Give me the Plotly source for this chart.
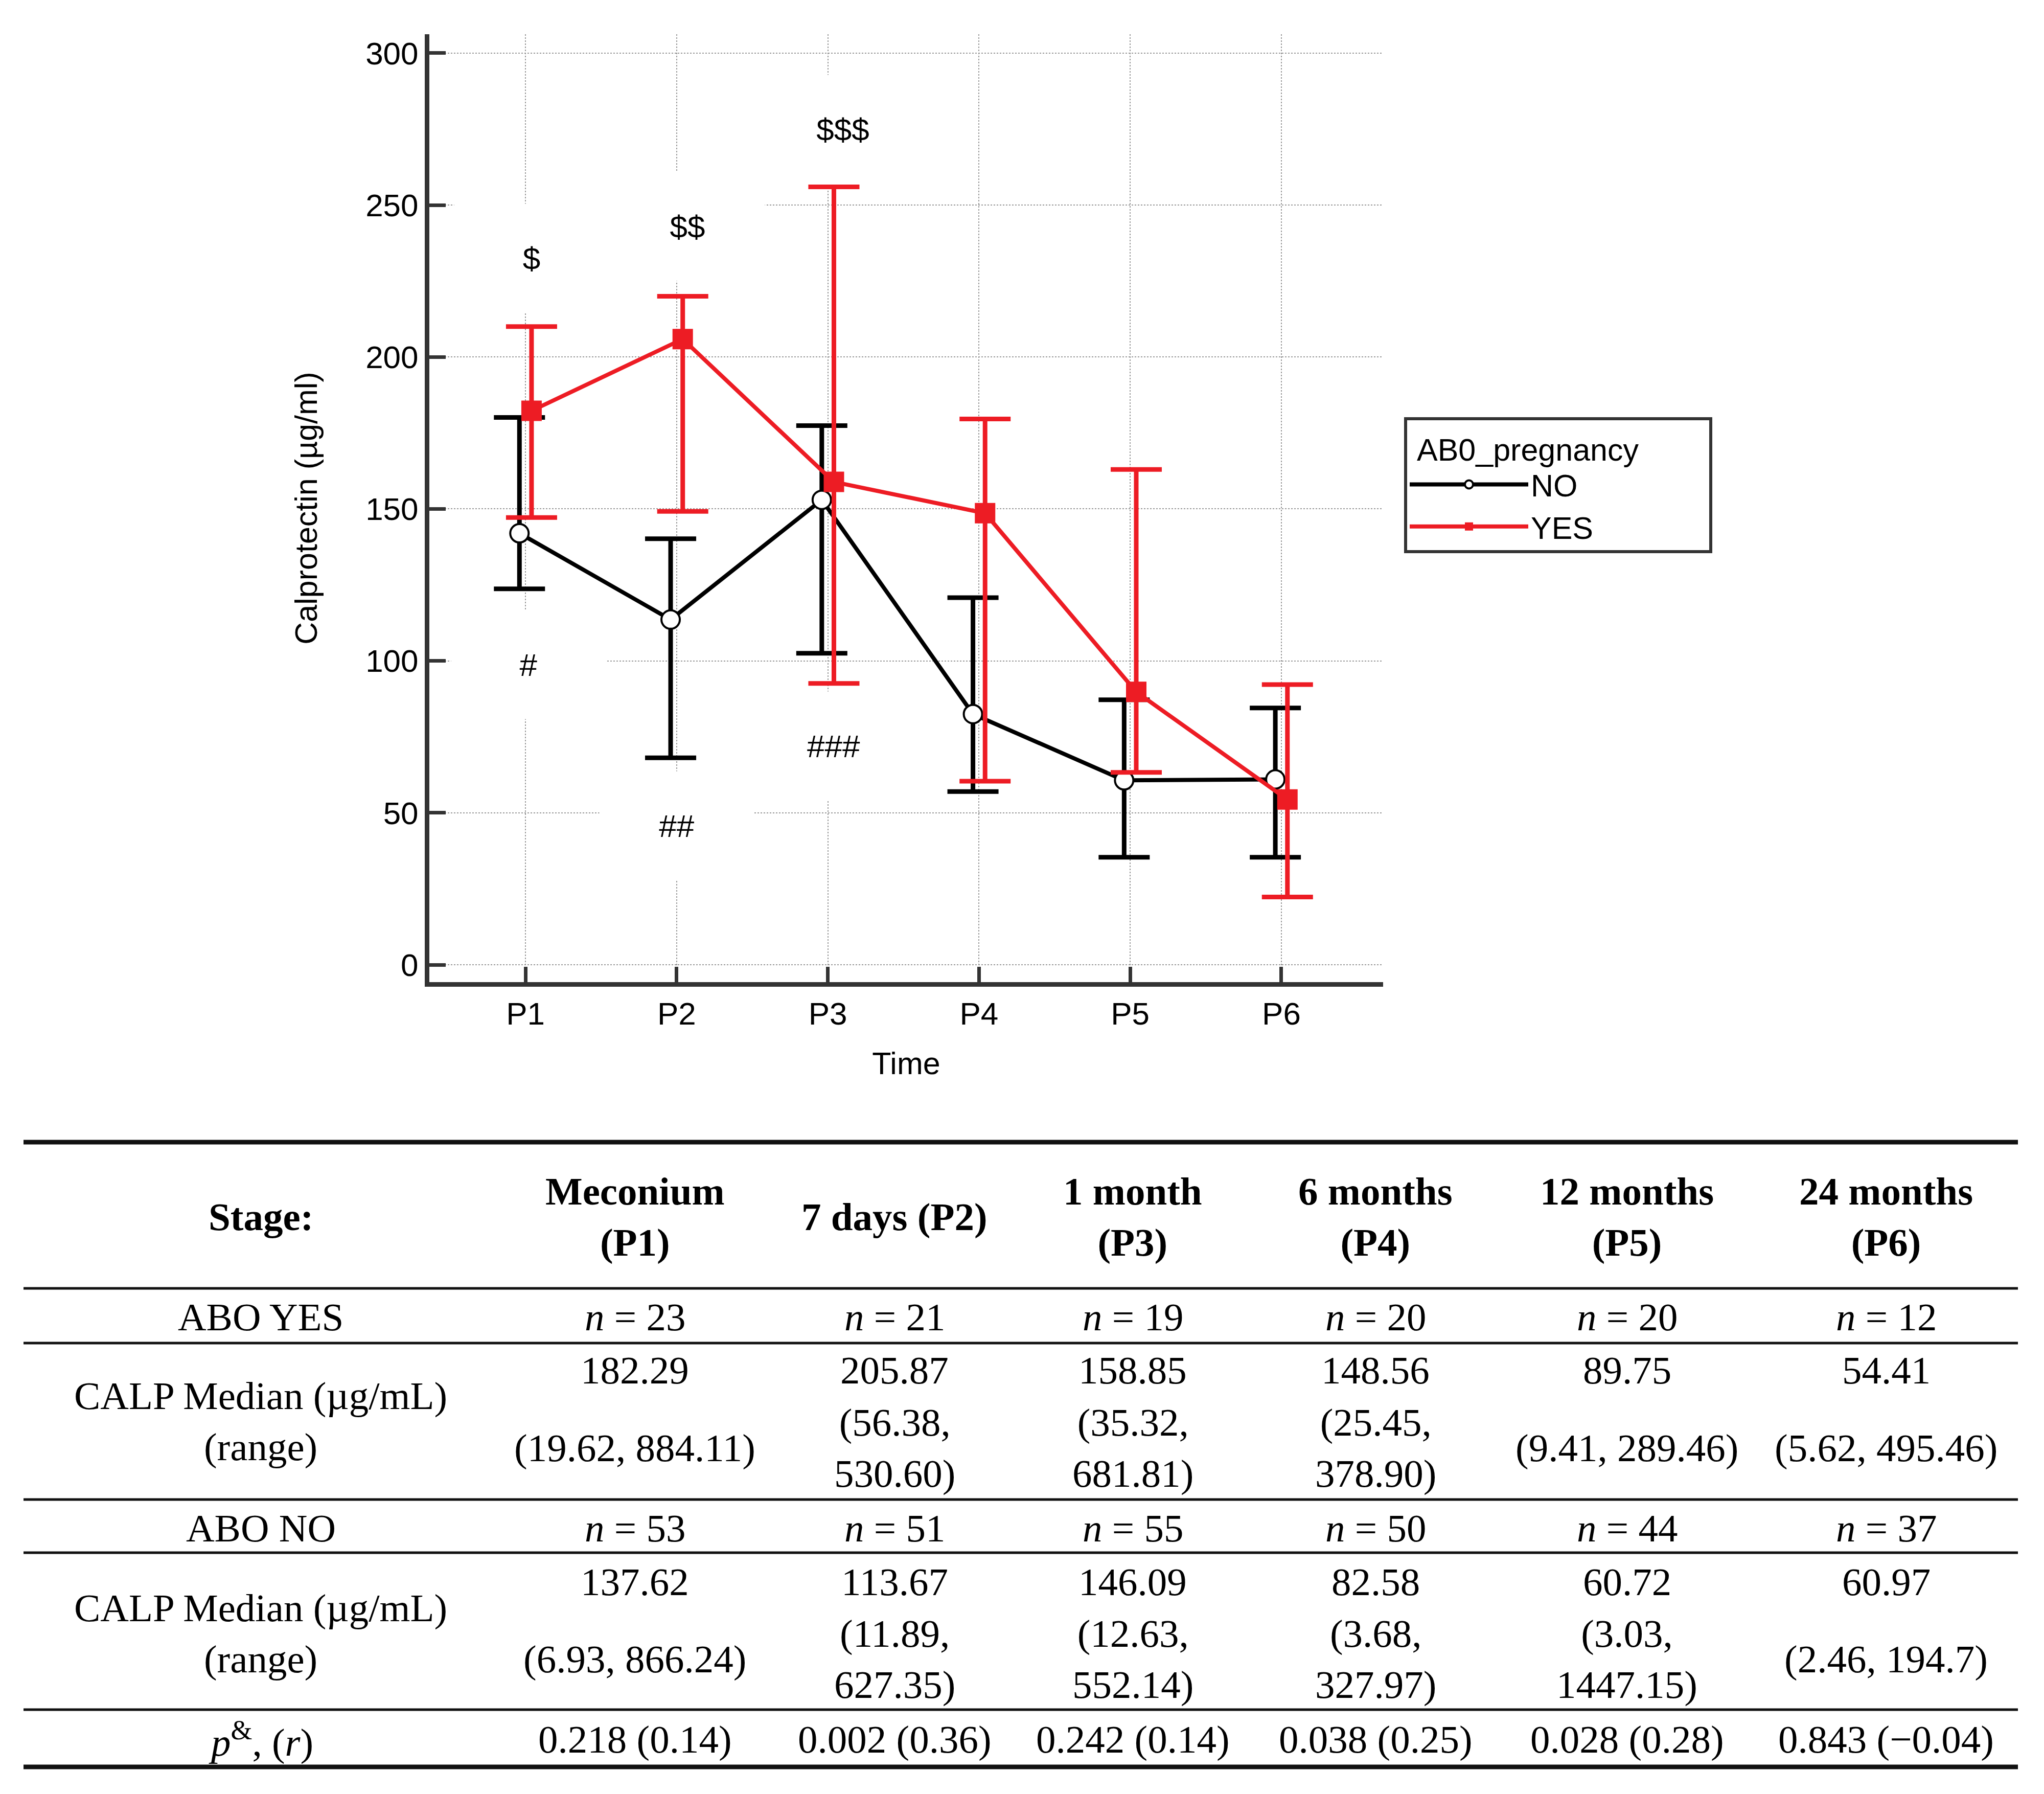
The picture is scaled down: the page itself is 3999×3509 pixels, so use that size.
import plotly.graph_objects as go

# ---- chart data ----
time_labels = ["P1", "P2", "P3", "P4", "P5", "P6"]
time_idx = [1, 2, 3, 4, 5, 6]

no_median = [142.0, 113.6, 153.0, 82.5, 60.7, 61.0]
no_upper = [180.1, 140.2, 177.4, 120.8, 87.2, 84.5]
no_lower = [123.7, 68.1, 102.5, 57.0, 35.4, 35.4]

yes_median = [182.3, 205.9, 158.9, 148.6, 89.8, 54.4]
yes_upper = [210.0, 220.0, 256.0, 179.6, 163.0, 92.2]
yes_lower = [147.2, 149.2, 92.6, 60.4, 63.3, 22.3]

sig_text = ["$", "$$", "$$$", "#", "##", "###"]
sig_x = [1.04, 2.07, 3.10, 1.02, 2.0, 3.04]
sig_y = [232.5, 242.9, 274.9, 98.8, 45.8, 72.0]

# ---- table data ----
stage_header = ["Stage:", "Meconium<br>(P1)", "7 days (P2)", "1 month<br>(P3)",
                "6 months<br>(P4)", "12 months<br>(P5)", "24 months<br>(P6)"]
yes_n = [23, 21, 19, 20, 20, 12]
yes_calp = ["182.29", "205.87", "158.85", "148.56", "89.75", "54.41"]
yes_range = ["(19.62, 884.11)", "(56.38,<br>530.60)", "(35.32,<br>681.81)",
             "(25.45,<br>378.90)", "(9.41, 289.46)", "(5.62, 495.46)"]
no_n = [53, 51, 55, 50, 44, 37]
no_calp = ["137.62", "113.67", "146.09", "82.58", "60.72", "60.97"]
no_range = ["(6.93, 866.24)", "(11.89,<br>627.35)", "(12.63,<br>552.14)",
            "(3.68,<br>327.97)", "(3.03,<br>1447.15)", "(2.46, 194.7)"]
p_val = ["0.218", "0.002", "0.242", "0.038", "0.028", "0.843"]
r_val = ["0.14", "0.36", "0.14", "0.25", "0.28", "\u22120.04"]

# ---- layout geometry (page pixels; the html body adds an 8px margin) ----
OFF = 8
W, H = 3999 - 2 * OFF, 3509 - 2 * OFF
X0, X1, Y0, Y1 = 840, 2706, 67, 1921
dodge = 0.04
BLACK = "#000000"
RED = "#ED1C24"
AXC = "#333333"
SANS = "Liberation Sans, Arial, sans-serif"
SERIF = "Liberation Serif, Times New Roman, serif"
NB = "\u00a0"


def px_x(p):
    return (p - X0) / (X1 - X0)


def px_y(p):
    return (Y1 - p) / (Y1 - Y0)


fig = go.Figure()

fig.add_trace(go.Scatter(
    x=[t - dodge for t in time_idx], y=no_median, name="NO",
    mode="lines+markers",
    line=dict(color=BLACK, width=8),
    marker=dict(symbol="circle", size=36, color="white", line=dict(color=BLACK, width=4)),
    error_y=dict(type="data", symmetric=False,
                 array=[u - m for u, m in zip(no_upper, no_median)],
                 arrayminus=[m - l for m, l in zip(no_median, no_lower)],
                 color=BLACK, thickness=9, width=50),
))
fig.add_trace(go.Scatter(
    x=[t + dodge for t in time_idx], y=yes_median, name="YES",
    mode="lines+markers",
    line=dict(color=RED, width=8),
    marker=dict(symbol="square", size=40, color=RED),
    error_y=dict(type="data", symmetric=False,
                 array=[u - m for u, m in zip(yes_upper, yes_median)],
                 arrayminus=[m - l for m, l in zip(yes_median, yes_lower)],
                 color=RED, thickness=9, width=50),
))

annotations = []
# significance marks (white boxes hide the grid behind them)
for t, x, y in zip(sig_text, sig_x, sig_y):
    annotations.append(dict(x=x, y=y, xref="x", yref="y", text=t, showarrow=False,
                            font=dict(family=SANS, size=62, color="black"),
                            bgcolor="white", width=300, height=210))

# table
cols_x = [510, 1242, 1750, 2216, 2691, 3183, 3690]


def cell(xp, yp, text, bold=False):
    if bold:
        text = "<b>" + text.replace("<br>", "</b><br><b>") + "</b>"
    annotations.append(dict(x=px_x(xp), y=px_y(yp), xref="paper", yref="paper",
                            text=text, showarrow=False, xanchor="center", yanchor="middle",
                            font=dict(family=SERIF, size=77, color="black")))


for xp, h in zip(cols_x, stage_header):
    cell(xp, 2380, h, bold=True)

calp_label = "CALP Median (\u00b5g/mL)<br>(range)"
cell(cols_x[0], 2576, "ABO YES")
cell(cols_x[0], 2780, calp_label)
cell(cols_x[0], 2989, "ABO NO")
cell(cols_x[0], 3195, calp_label)
cell(cols_x[0], 3402, "<i>p</i><sup>&amp;</sup>, (<i>r</i>)")

for i, xp in enumerate(cols_x[1:]):
    cell(xp, 2576, "<i>n</i> = %d" % yes_n[i])
    cell(xp, 2680, yes_calp[i])
    cell(xp, 2832, yes_range[i])
    cell(xp, 2989, "<i>n</i> = %d" % no_n[i])
    cell(xp, 3094, no_calp[i])
    cell(xp, 3245, no_range[i])
    cell(xp, 3402, "%s (%s)" % (p_val[i], r_val[i]))

shapes = []
for yl, lw in [(2234, 9), (2520, 5), (2627, 5), (2933, 5), (3037, 5), (3344, 5), (3456, 9)]:
    shapes.append(dict(type="line", xref="paper", yref="paper",
                       x0=px_x(46), x1=px_x(3948), y0=px_y(yl), y1=px_y(yl),
                       line=dict(color="#111111", width=lw)))

fig.update_layout(
    width=W, height=H,
    margin=dict(l=X0 - OFF, r=W - (X1 - OFF), t=Y0 - OFF, b=H - (Y1 - OFF), autoexpand=False),
    paper_bgcolor="white", plot_bgcolor="white",
    font=dict(family=SANS, size=62, color="black"),
    showlegend=True,
    legend=dict(
        title=dict(text=NB + "AB0_pregnancy" + NB * 8, font=dict(size=61)),
        x=px_x(2747), y=px_y(816), xanchor="left", yanchor="top",
        bordercolor=AXC, borderwidth=6, bgcolor="white",
        font=dict(size=61), itemwidth=232,
    ),
    annotations=annotations,
    shapes=shapes,
)

fig.update_xaxes(
    range=[0.364, 6.673], tickvals=time_idx, ticktext=time_labels,
    showline=True, linecolor=AXC, linewidth=9,
    ticks="inside", ticklen=30, tickwidth=7, tickcolor=AXC,
    showgrid=True, gridcolor="#999999", gridwidth=2, griddash="dot",
    zeroline=False, tickfont=dict(size=62),
    title=dict(text="Time", font=dict(size=61), standoff=45),
)
fig.update_yaxes(
    range=[-5.7, 306.2], tick0=0, dtick=50,
    showline=True, linecolor=AXC, linewidth=9,
    ticks="inside", ticklen=32, tickwidth=7, tickcolor=AXC,
    showgrid=True, gridcolor="#999999", gridwidth=2, griddash="dot",
    zeroline=False, tickfont=dict(size=62),
    title=dict(text="Calprotectin (\u00b5g/ml)", font=dict(size=61), standoff=78),
)

fig.write_html("out.html")
